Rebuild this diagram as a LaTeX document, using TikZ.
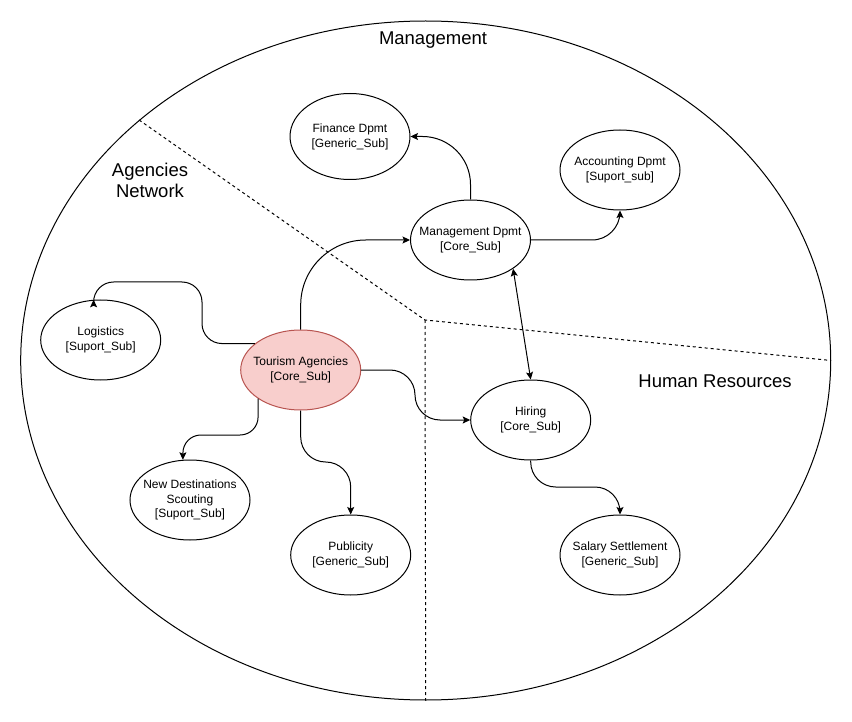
\documentclass[tikz,border=0pt]{standalone}
\usepackage{fontspec}
\setmainfont{Liberation Sans}
\usetikzlibrary{shapes.geometric,arrows.meta}
\definecolor{tourfill}{HTML}{F8CECC}
\definecolor{tourdraw}{HTML}{B85450}
\begin{document}
\begin{tikzpicture}[x=1pt,y=-1pt,
  subtext/.style={align=center, inner sep=0pt, fill=none, draw=none, font=\fontsize{12}{14.8}\selectfont},
  sub/.style={ellipse, draw, fill=white, line width=1pt, minimum width=120pt, minimum height=80pt,
    inner sep=0pt, label={[subtext]center:#1}},
  area/.style={align=center, inner sep=0pt, font=\fontsize{18.5}{21}\selectfont},
  outerell/.style={ellipse, draw, line width=1pt, minimum width=810pt, minimum height=679pt, inner sep=0pt},
  part/.style={line width=1pt, dash pattern=on 3pt off 3pt},
  conn/.style={line width=1pt, -{Stealth[length=7.5pt,width=7pt,inset=1.5pt]}},
  conntwo/.style={line width=1pt, {Stealth[length=7.5pt,width=7pt,inset=1.5pt]}-{Stealth[length=7.5pt,width=7pt,inset=1.5pt]}}]
\useasboundingbox (0,0) rectangle (852,722);

% outer boundary
\node[outerell] (outer) at (425.7,360.5) {};
\coordinate (corner) at (425,320);
\draw[part] (outer.140) -- (corner) -- (outer.east);
\draw[part] (corner) -- (outer.south);

% area labels
\node[area] (lmgmt) at (433,40) {Management};
\node[area] (lagn) at (150,180) {Agencies\\Network};
\node[area] (lhr) at (715,381) {Human Resources};

% subdomains
\node[sub={Finance Dpmt\\{[Generic\_Sub]}}, minimum height=86pt] (fin) at (350,136.5) {};
\node[sub={Accounting Dpmt\\{[Suport\_sub]}}] (acc) at (620,170) {};
\node[sub={Management Dpmt\\{[Core\_Sub]}}] (mgmt) at (470.5,240) {};
\node[sub={Logistics\\{[Suport\_Sub]}}] (log) at (100.7,340) {};
\node[sub={Tourism Agencies\\{[Core\_Sub]}}, fill=tourfill, draw=tourdraw] (tour) at (300.7,370) {};
\node[sub={Hiring\\{[Core\_Sub]}}] (hire) at (530.7,420) {};
\node[sub={New Destinations\\Scouting\\{[Suport\_Sub]}}] (newd) at (190,500) {};
\node[sub={Publicity\\{[Generic\_Sub]}}] (pub) at (350.7,555) {};
\node[sub={Salary Settlement\\{[Generic\_Sub]}}] (sal) at (620,555) {};

% waypoints
\coordinate (w1) at (202,282);
\coordinate (w2) at (0,435);
\coordinate (w3) at (0,462);
\coordinate (w4) at (415,0);
\coordinate (w5) at (0,487);

% connectors
\draw[conn, rounded corners=65pt] (tour.north) |- (mgmt.west);
\draw[conn, rounded corners=25pt] (tour.east) -- (tour.east -| w4) -- (hire.west -| w4) -- (hire.west);
\draw[conn, rounded corners=20pt] (tour.150) -- (tour.150 -| w1) -- (w1) -- (log.100 |- w1) -- (log.100);
\draw[conn, rounded corners=18pt] (tour.214) -- (tour.214 |- w2) -- (newd.100 |- w2) -- (newd.100);
\draw[conn, rounded corners=25pt] (tour.south) -- (tour.south |- w3) -- (pub.north |- w3) -- (pub.north);
\draw[conn, rounded corners=48pt] (mgmt.north) |- (fin.east);
\draw[conn, rounded corners=28pt] (mgmt.east) -| (acc.south);
\draw[conntwo] (mgmt.-34) -- (hire.north);
\draw[conn, rounded corners=25pt] (hire.south) -- (hire.south |- w5) -- (sal.north |- w5) -- (sal.north);
\end{tikzpicture}
\end{document}
